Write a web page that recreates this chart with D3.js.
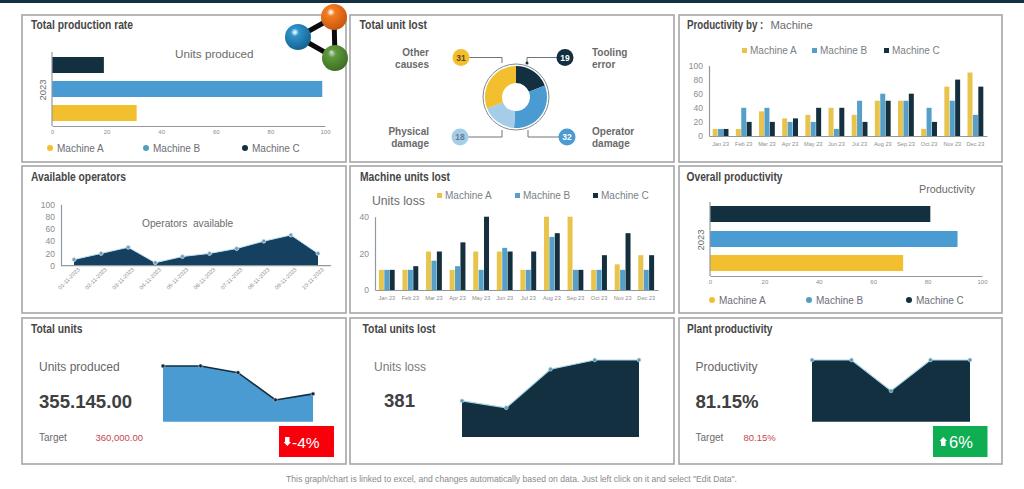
<!DOCTYPE html>
<html>
<head>
<meta charset="utf-8">
<script src="https://cdn.jsdelivr.net/npm/d3@7"></script>
<style>
  html, body { margin: 0; padding: 0; background: #fff; }
  svg { display: block; font-family: "Liberation Sans", Arial, sans-serif; }
  .title { font-weight: 700; font-size: 12.5px; fill: #464646; }
</style>
</head>
<body>
<svg id="board" width="1024" height="489"></svg>
<script>
// Dashboard values
const machines = ["Machine A", "Machine B", "Machine C"];
const months = ["Jan 23","Feb 23","Mar 23","Apr 23","May 23","Jun 23","Jul 23","Aug 23","Sep 23","Oct 23","Nov 23","Dec 23"];
const productionRate = [31, 99, 19];
const overallProductivity = [71, 91, 81];
const lossCauses = ["Tooling error", "Operator damage", "Physical damage", "Other causes"];
const lossValues = [19, 32, 18, 31];
const prodA = [10,10,35,25,30,40,30,50,50,10,70,90];
const prodB = [10,40,40,20,20,10,50,60,50,40,50,30];
const prodC = [10,20,20,25,40,40,20,50,60,20,80,70];
const lostA = [11,11,21,11,21,21,11,40,40,11,14,19];
const lostB = [11,11,16,13,11,23,11,29,11,11,11,11];
const lostC = [11,13,21,26,40,21,21,31,11,19,31,19];
const operatorDates = ["01-11-2023","02-11-2023","03-11-2023","04-11-2023","05-11-2023","06-11-2023","07-11-2023","08-11-2023","09-11-2023","10-11-2023"];
const operatorValues = [10,20,30,5,15,20,28,40,50,20];
const unitsTrend = [100,100,88,39,50];
const lossTrend = [47,38,88,100,100];
const plantTrend = [100,100,50,100,100];
const axisTicks100 = [0,20,40,60,80,100];

const NAVY = "#12303f", BLUE = "#4a9bd1", YELLOW = "#f2bf2f", PALE = "#a6cde8";
const TEAL_DOT = "#4f9fc0";
const COL_YELLOW = "#e9c44c", COL_BLUE = "#559fc9", COL_NAVY = "#14303f";
const GREY_AXIS = "#8f9aa0", TEXT = "#6b6b6b";

const svg = d3.select("#board");

function label(x, y, text, size, opts = {}) {
  return svg.append("text").attr("x", x).attr("y", y).text(text)
    .attr("font-size", size)
    .attr("fill", opts.fill || TEXT)
    .attr("font-weight", opts.weight || 400)
    .attr("text-anchor", opts.anchor || "start");
}

function styleAxis(g, size) {
  g.selectAll("path.domain").attr("stroke", GREY_AXIS).attr("stroke-width", 1.2);
  g.selectAll("text").attr("font-size", size).attr("fill", "#8c8c8c");
  g.selectAll("line").remove();
}

// Header strip
svg.append("rect").attr("width", 1024).attr("height", 3).attr("fill", NAVY);

// Panel frames
const colX = [[22, 346], [350, 674], [679, 1002]];
const rowY = [[15, 162], [166, 313], [318, 464]];
rowY.forEach(r => colX.forEach(c => {
  svg.append("rect").attr("x", c[0]).attr("y", r[0])
    .attr("width", c[1] - c[0]).attr("height", r[1] - r[0])
    .attr("fill", "#fff").attr("stroke", "#a6a6a6").attr("stroke-width", 1.6);
}));

// Panel titles, condensed to the narrow heading width
[["Total production rate",31,29,102],["Total unit lost",359.5,29,67.5],["Available operators",31,181,95],
 ["Machine units lost",360,181,90],["Overall productivity",686.5,181,96],
 ["Total units",31,333,51.5],["Total units lost",362.5,333,73],["Plant productivity",687,333,85.5]]
  .forEach(t => svg.append("text").attr("class","title").attr("x",t[1]).attr("y",t[2])
    .attr("textLength",t[3]).attr("lengthAdjust","spacingAndGlyphs").text(t[0]));
svg.append("text").attr("class","title").attr("transform","translate(687,29) scale(0.78,1)").text("Productivity by :");
label(770.5,29,"Machine",11.2);

// Horizontal single-year bars with a round-marker legend
function hbarPanel(values, x0, x1, yTop, yBot, barTops, barH, yearX, legendX, legendY) {
  const x = d3.scaleLinear().domain([0,100]).range([x0,x1]);
  const colors = [YELLOW, BLUE, NAVY];
  svg.append("g").selectAll("rect").data(values).join("rect")
    .attr("x", x(0)).attr("y", (d,i)=>barTops[i])
    .attr("width", d=>x(d)-x(0)).attr("height", barH)
    .attr("fill", (d,i)=>colors[i]);
  const ax = svg.append("g").attr("transform",`translate(0,${yBot})`)
    .call(d3.axisBottom(x).tickValues(axisTicks100).tickSize(0).tickPadding(4));
  styleAxis(ax, 6);
  svg.append("line").attr("x1",x0).attr("x2",x0).attr("y1",yTop).attr("y2",yBot).attr("stroke",GREY_AXIS).attr("stroke-width",1.2);
  svg.append("text").attr("transform",`translate(${yearX},${(yTop+yBot)/2+1}) rotate(-90)`)
    .attr("text-anchor","middle").attr("font-size",9.5).attr("fill",TEXT).text("2023");
  const legendColors = [YELLOW, TEAL_DOT, NAVY];
  machines.forEach((m,i)=>{
    svg.append("circle").attr("cx",legendX[i]).attr("cy",legendY).attr("r",3).attr("fill",legendColors[i]);
    label(legendX[i]+7,legendY+3.5,m,10,{fill:"#6d6d78"});
  });
}
hbarPanel(productionRate, 52, 325, 52, 126, [105,81,57], 16, 46, [50,146,245], 148);
hbarPanel(overallProductivity, 710, 982, 202, 276, [255,231,206], 16, 704, [712,809,909], 300);
label(175,58,"Units produced",11.7);
label(919,193,"Productivity",10.8);

// Grouped monthly columns
function columnPanel(seriesList, domainMax, ticks, x0, x1, yBase, yTop, barW, legendX, legendY, padL) {
  const x = d3.scaleBand().domain(months).range([x0,x1]);
  const y = d3.scaleLinear().domain([0,domainMax]).range([yBase,yTop]);
  const colors = [COL_YELLOW, COL_BLUE, COL_NAVY];
  seriesList.forEach((vals,s)=>{
    svg.append("g").selectAll("rect").data(vals).join("rect")
      .attr("x",(d,i)=>x(months[i])+x.bandwidth()/2+(s-1)*(barW+0.4)-barW/2)
      .attr("y",d=>y(d)).attr("width",barW).attr("height",d=>yBase-y(d))
      .attr("fill",colors[s]);
  });
  const ax = svg.append("g").attr("transform",`translate(0,${yBase})`)
    .call(d3.axisBottom(x).tickSize(0).tickPadding(6));
  styleAxis(ax,5.6);
  const ay = svg.append("g").attr("transform",`translate(${x0},0)`)
    .call(d3.axisLeft(y).tickValues(ticks).tickSize(0).tickPadding(padL));
  styleAxis(ay,8.5);
  machines.forEach((m,i)=>{
    svg.append("rect").attr("x",legendX[i]).attr("y",legendY-4).attr("width",5).attr("height",5).attr("fill",colors[i]);
    label(legendX[i]+8,legendY+1.5,m,10,{fill:"#7a7f85"});
  });
}
columnPanel([prodA,prodB,prodC],100,axisTicks100,709,987,136,65.5,5,[742,812,884],52,6);
columnPanel([lostA,lostB,lostC],40,[0,20,40],375,658,290,216.7,5,[437,515,593],197,6);
label(372,205,"Units loss",12.2);

// Donut with numbered callouts
const donutCx = 516, donutCy = 97;
const arcGen = d3.arc().innerRadius(14).outerRadius(31);
const pieGen = d3.pie().sort(null);
const lossColors = [NAVY, BLUE, PALE, YELLOW];
svg.append("g").attr("transform",`translate(${donutCx},${donutCy})`)
  .selectAll("path").data(pieGen(lossValues)).join("path")
  .attr("d",arcGen).attr("fill",(d,i)=>lossColors[i]);
svg.append("circle").attr("cx",donutCx).attr("cy",donutCy).attr("r",33)
  .attr("fill","none").attr("stroke","#7f8a90").attr("stroke-width",1);

const calloutPaths = [
  { cx:565, cy:57.5, lx:527, ly:63, text:"#fff", name:[592,56,"Tooling","error"], anchor:"start" },
  { cx:567, cy:137, lx:528, ly:130, text:"#fff", name:[592,135,"Operator","damage"], anchor:"start" },
  { cx:460, cy:137, lx:502, ly:130, text:"#5d7f95", name:[429,135,"Physical","damage"], anchor:"end" },
  { cx:461, cy:57.5, lx:502, ly:63, text:"#5f4a10", name:[429,56,"Other","causes"], anchor:"end" }
];
lossValues.forEach((v,i)=>{
  const c = calloutPaths[i];
  svg.append("path").attr("d",d3.line()([[c.cx,c.cy],[c.lx,c.cy],[c.lx,c.ly]]))
    .attr("fill","none").attr("stroke","#6f7478").attr("stroke-width",1);
  svg.append("circle").attr("cx",c.cx).attr("cy",c.cy).attr("r",8.5).attr("fill",lossColors[i]);
  label(c.cx,c.cy+3,v,8.5,{fill:c.text,weight:700,anchor:"middle"});
  label(c.name[0],c.name[1],c.name[2],10,{weight:700,anchor:c.anchor,fill:"#6a6a6a"});
  label(c.name[0],c.name[1]+11.5,c.name[3],10,{weight:700,anchor:c.anchor,fill:"#6a6a6a"});
});
svg.append("circle").attr("cx",527).attr("cy",63).attr("r",1.5).attr("fill",NAVY);

// Operators area chart
{
  const x = d3.scalePoint().domain(operatorDates).range([74,318]);
  const y = d3.scaleLinear().domain([0,100]).range([265.7,204.3]);
  svg.append("path").datum(operatorValues)
    .attr("d",d3.area().x((d,i)=>x(operatorDates[i])).y0(265.7).y1(d=>y(d)))
    .attr("fill","#15405f");
  svg.append("path").datum(operatorValues)
    .attr("d",d3.line().x((d,i)=>x(operatorDates[i])).y(d=>y(d)))
    .attr("fill","none").attr("stroke","#bfe3f2").attr("stroke-width",1);
  svg.append("g").selectAll("circle").data(operatorValues).join("circle")
    .attr("cx",(d,i)=>x(operatorDates[i])).attr("cy",d=>y(d)).attr("r",2)
    .attr("fill","#6f9db5").attr("stroke","#cfe8f3").attr("stroke-width",0.8);
  svg.append("line").attr("x1",61).attr("x2",331).attr("y1",265.7).attr("y2",265.7).attr("stroke",GREY_AXIS).attr("stroke-width",1.2);
  const ay = svg.append("g").attr("transform","translate(61,0)")
    .call(d3.axisLeft(y).tickValues(axisTicks100).tickSize(0).tickPadding(6));
  styleAxis(ay,8.5);
  const ax = svg.append("g").attr("transform","translate(0,265.7)")
    .call(d3.axisBottom(x).tickSize(0).tickPadding(5));
  ax.select("path.domain").remove();
  ax.selectAll("line").remove();
  ax.selectAll("text").attr("font-size",5.6).attr("fill","#8c8c8c")
    .attr("text-anchor","end").attr("dx",1).attr("dy",2).attr("transform","rotate(-45)");
  label(142,227,"Operators\u00A0\u00A0available",10.2);
}

// Key-figure sparkline cards
function sparkCard(values, xs, yBase, yTop, fill, lineColor, dotFill, dotStroke, lineW) {
  const idx = d3.range(values.length);
  const x = d3.scaleLinear().domain([0,values.length-1]).range(xs);
  const y = d3.scaleLinear().domain([0,100]).range([yBase,yTop]);
  svg.append("path").datum(values)
    .attr("d",d3.area().x((d,i)=>x(i)).y0(yBase).y1(d=>y(d))).attr("fill",fill);
  svg.append("path").datum(values)
    .attr("d",d3.line().x((d,i)=>x(i)).y(d=>y(d)))
    .attr("fill","none").attr("stroke",lineColor).attr("stroke-width",lineW);
  svg.append("g").selectAll("circle").data(idx).join("circle")
    .attr("cx",i=>x(i)).attr("cy",i=>y(values[i])).attr("r",1.9)
    .attr("fill",dotFill).attr("stroke",dotStroke).attr("stroke-width",0.6);
}
sparkCard(unitsTrend,[163,313],421.7,366,"#4a9bd1",NAVY,"#0e2430","#bcd",1.6);
sparkCard(lossTrend,[462,639],437,360,"#12303f","#a9d6ea","#5f97ad","#b9dcea",1.2);
sparkCard(plantTrend,[812,970],421.7,360,"#12303f","#a9d6ea","#5f97ad","#b9dcea",1.2);

label(39,371,"Units produced",12,{fill:"#666"});
label(39,408,"355.145.00",18.6,{weight:700,fill:"#404040"});
label(39,441,"Target",10);
label(95.5,441,"360,000.00",9.5,{fill:"#c8464f"});

label(374,371,"Units loss",12,{fill:"#7a7a7a"});
label(384,407,"381",18.6,{weight:700,fill:"#404040"});

label(695.5,371,"Productivity",12,{fill:"#666"});
label(695.5,408,"81.15%",18.6,{weight:700,fill:"#404040"});
label(695.5,441,"Target",10);
label(743.5,441,"80.15%",9.5,{fill:"#c8464f"});

// Change badges
svg.append("rect").attr("x",279).attr("y",426).attr("width",55).attr("height",31).attr("fill","#f7000c");
svg.append("path").attr("d","M285 437h4.5v5h1.5l-3.7 4-3.7-4h1.4z").attr("fill","#fff");
label(292,447.5,"-4%",15.5,{fill:"#fff"});
svg.append("rect").attr("x",933).attr("y",426).attr("width",54.5).attr("height",31).attr("fill","#0fae52");
svg.append("path").attr("d","M941 446h4.5v-5h1.5l-3.7-4-3.7 4h1.4z").attr("fill","#fff");
label(949,447.5,"6%",16.5,{fill:"#fff"});

// Footer note
label(511.5,482,'This graph/chart is linked to excel, and changes automatically based on data. Just left click on it and select "Edit Data".',8.6,{anchor:"middle",fill:"#8a8a8a"});

// Molecule logo over the corner of the first panel
{
  const nodes = [[334,17,"#f47c20","#c9560f"],[298,37,"#2f93cc","#14618f"],[335,58,"#5f9a3c","#3d6d22"]];
  const defs = svg.append("defs");
  nodes.forEach((n,i)=>{
    const g = defs.append("radialGradient").attr("id","ball"+i).attr("cx","38%").attr("cy","32%").attr("r","70%");
    g.append("stop").attr("offset","0%").attr("stop-color","#ffffff").attr("stop-opacity",0.75);
    g.append("stop").attr("offset","22%").attr("stop-color",n[2]);
    g.append("stop").attr("offset","100%").attr("stop-color",n[3]);
  });
  svg.append("path")
    .attr("d",d3.line()(nodes.map(n=>[n[0],n[1]]))+"Z")
    .attr("fill","none").attr("stroke","#0b0b0b").attr("stroke-width",5);
  nodes.forEach((n,i)=>svg.append("circle").attr("cx",n[0]).attr("cy",n[1]).attr("r",13).attr("fill",`url(#ball${i})`));
}
</script>
</body>
</html>
